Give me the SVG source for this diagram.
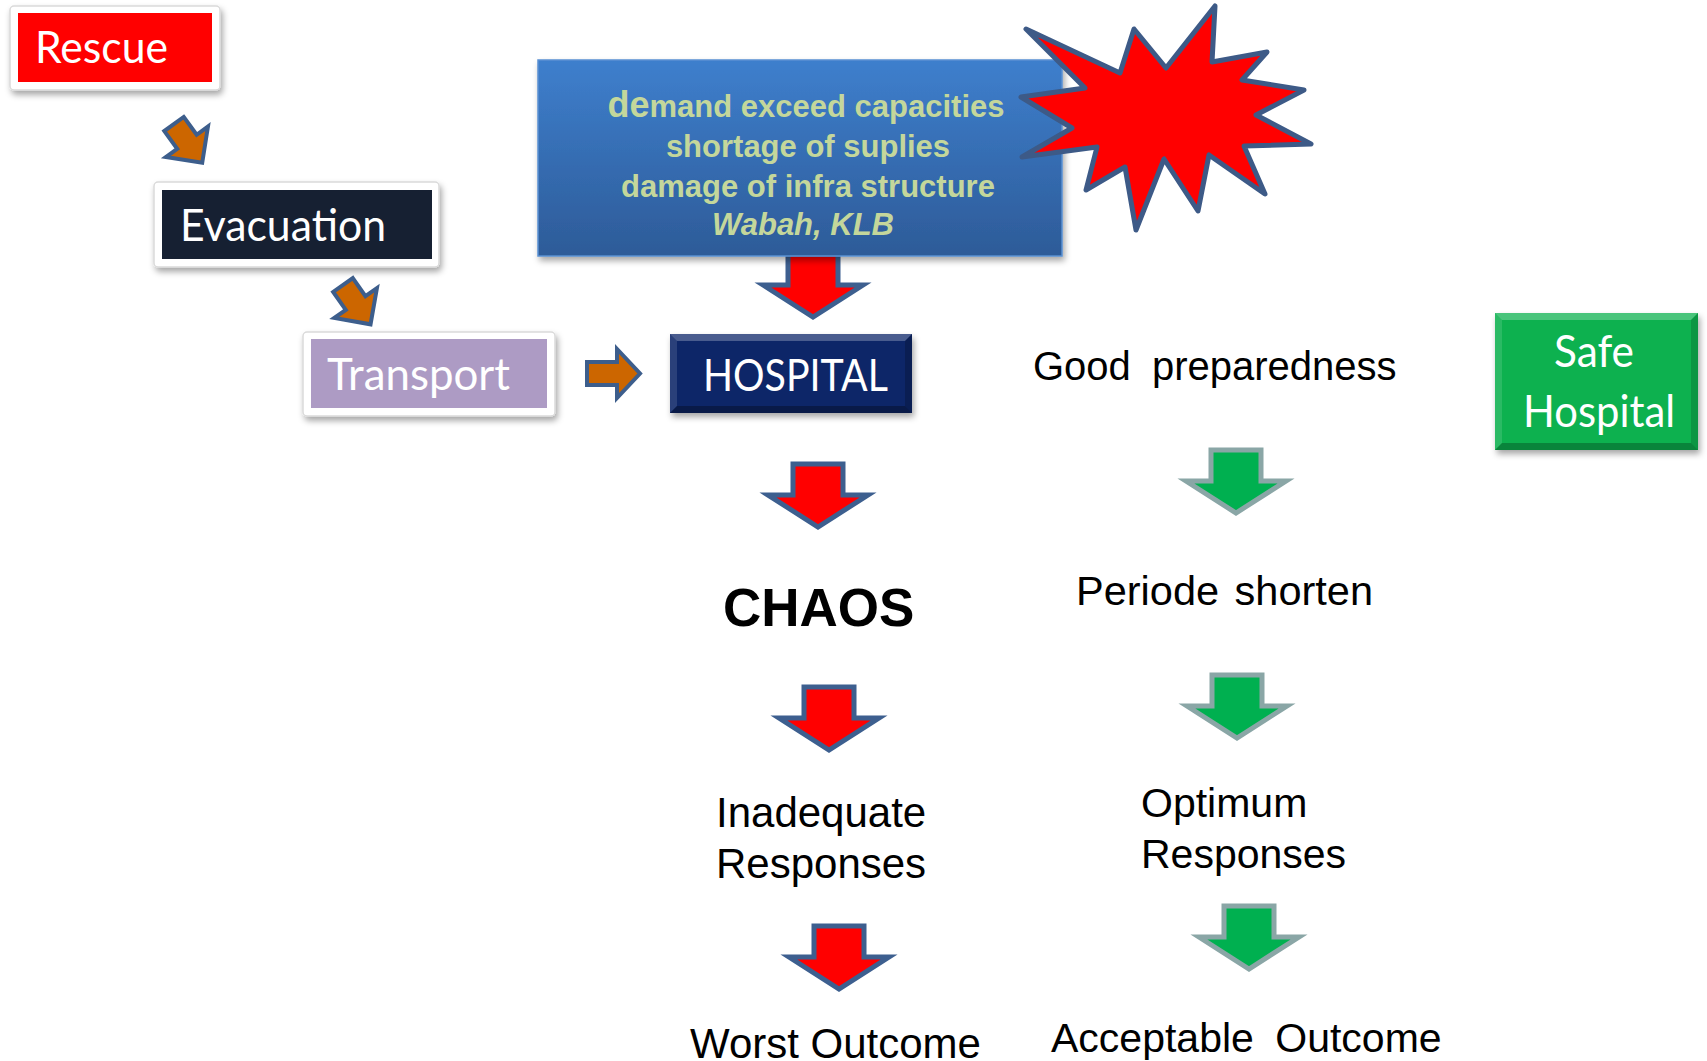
<svg xmlns="http://www.w3.org/2000/svg" width="1707" height="1061" viewBox="0 0 1707 1061">
<defs>
<style>
.lbl{font-family:Lato,"Open Sans",sans-serif;fill:#fff;font-size:44px}
.ar{font-family:"Liberation Sans",Arial,sans-serif;fill:#000}
.blue{font-family:"Liberation Sans",Arial,sans-serif;font-weight:bold;fill:#C4D79B;font-size:31px;text-anchor:middle}
.frame{fill:#fff;stroke:#DADADA;stroke-width:1.5}
.red{fill:#FF0000;stroke:#3D5F8F;stroke-width:5;stroke-linejoin:miter}
.green{fill:#00B050;stroke:#8AA6A6;stroke-width:5;stroke-linejoin:miter}
.orange{fill:#CC6600;stroke:#3D5E8C;stroke-width:4;stroke-linejoin:miter}
</style>
<filter id="sh" x="-10%" y="-10%" width="125%" height="135%">
<feDropShadow dx="2" dy="4" stdDeviation="3" flood-color="#000" flood-opacity="0.35"/>
</filter>
<linearGradient id="bg" x1="0" y1="0" x2="0" y2="1">
<stop offset="0" stop-color="#3E7FCD"/>
<stop offset="1" stop-color="#2D5B98"/>
</linearGradient>
<path id="down" d="M-25,2 H25 V33 H50 L0,65 L-50,33 H-25 Z"/>
<path id="diag" d="M0,-12 H22 V-26 L48,0 L22,26 V12 H0 Z"/>
</defs>
<rect width="1707" height="1061" fill="#fff"/>

<g id="connectors">
<use href="#diag" class="orange" transform="translate(174,124) rotate(54)"/>
<use href="#diag" class="orange" transform="translate(343,285) rotate(55)"/>
<polygon class="orange" points="587,362 617,362 617,349 640,373.5 617,398 617,385 587,385"/>
<use href="#down" class="red" transform="translate(813,252)"/>
<use href="#down" class="red" transform="translate(818,462)"/>
<use href="#down" class="red" transform="translate(829,685)"/>
<use href="#down" class="red" transform="translate(839,924)"/>
<use href="#down" class="green" transform="translate(1236,448)"/>
<use href="#down" class="green" transform="translate(1237,673)"/>
<use href="#down" class="green" transform="translate(1249,904)"/>
</g>

<g id="rescue">
<rect class="frame" x="10" y="6" width="210" height="84" rx="4" filter="url(#sh)"/>
<rect x="18" y="13" width="194" height="69" fill="#FF0000"/>
<text class="lbl" x="35" y="63" textLength="133" lengthAdjust="spacingAndGlyphs">Rescue</text>
</g>

<g id="evacuation">
<rect class="frame" x="154" y="182" width="285" height="85" rx="4" filter="url(#sh)"/>
<rect x="162" y="190" width="270" height="69" fill="#162032"/>
<text class="lbl" x="180" y="241" textLength="206" lengthAdjust="spacingAndGlyphs">Evacuation</text>
</g>

<g id="transport">
<rect class="frame" x="303" y="332" width="252" height="84" rx="4" filter="url(#sh)"/>
<rect x="311" y="339" width="236" height="69" fill="#AD9BC4"/>
<text class="lbl" x="327" y="390" textLength="183" lengthAdjust="spacingAndGlyphs">Transport</text>
</g>

<g id="hospital">
<rect x="670" y="334" width="242" height="79" fill="#0A2668" filter="url(#sh)"/>
<polygon points="670,334 912,334 905,341 677,341" fill="#fff" opacity="0.25"/>
<polygon points="670,334 677,341 677,406 670,413" fill="#fff" opacity="0.12"/>
<polygon points="670,413 677,406 905,406 912,413" fill="#000" opacity="0.3"/>
<polygon points="912,334 912,413 905,406 905,341" fill="#000" opacity="0.2"/>
<text class="lbl" x="703" y="391" textLength="185" lengthAdjust="spacingAndGlyphs">HOSPITAL</text>
</g>

<g id="causes">
<rect x="538" y="60" width="524" height="196" fill="url(#bg)" stroke="#5A90D2" stroke-width="1.5" filter="url(#sh)"/>
<text class="blue" x="806" y="117"><tspan font-size="36">de</tspan>mand exceed capacities</text>
<text class="blue" x="808" y="157">shortage of suplies</text>
<text class="blue" x="808" y="197">damage of infra structure</text>
<text class="blue" x="803" y="235" font-style="italic">Wabah, KLB</text>
</g>

<g id="burst">
<polygon points="1026,29 1120,73 1134,29 1166,68 1215,6 1212,62 1267,52 1242,80 1304,90 1256,115 1311,144 1244,146 1265,194 1209,155 1198,211 1164,159 1136,230 1125,167 1086,190 1097,147 1022,157 1072,128 1021,97 1085,88" fill="#FF0000" stroke="#3D5A87" stroke-width="5" stroke-linejoin="round"/>
</g>

<g id="chaos">
<text class="ar" x="723" y="626" font-size="53" font-weight="bold">CHAOS</text>
</g>

<g id="inadequate">
<text class="ar" x="716" y="827" font-size="42">Inadequate</text>
<text class="ar" x="716" y="878" font-size="42">Responses</text>
</g>

<g id="worst">
<text class="ar" x="690" y="1058" font-size="42">Worst Outcome</text>
</g>

<g id="good">
<text class="ar" x="1033" y="380" font-size="40" word-spacing="10">Good preparedness</text>
</g>

<g id="periode">
<text class="ar" x="1076" y="605" font-size="41.5" word-spacing="4">Periode shorten</text>
</g>

<g id="optimum">
<text class="ar" x="1141" y="817" font-size="41">Optimum</text>
<text class="ar" x="1141" y="868" font-size="41">Responses</text>
</g>

<g id="acceptable">
<text class="ar" x="1051" y="1052" font-size="41" word-spacing="10">Acceptable Outcome</text>
</g>

<g id="safe">
<rect x="1495" y="313" width="203" height="137" fill="#07B150" filter="url(#sh)"/>
<polygon points="1495,313 1698,313 1691,320 1502,320" fill="#fff" opacity="0.25"/>
<polygon points="1495,313 1502,320 1502,443 1495,450" fill="#fff" opacity="0.12"/>
<polygon points="1495,450 1502,443 1691,443 1698,450" fill="#000" opacity="0.25"/>
<polygon points="1698,313 1698,450 1691,443 1691,320" fill="#000" opacity="0.15"/>
<text class="lbl" x="1554" y="367" textLength="80" lengthAdjust="spacingAndGlyphs">Safe</text>
<text class="lbl" x="1523" y="427" textLength="152" lengthAdjust="spacingAndGlyphs">Hospital</text>
</g>
</svg>
